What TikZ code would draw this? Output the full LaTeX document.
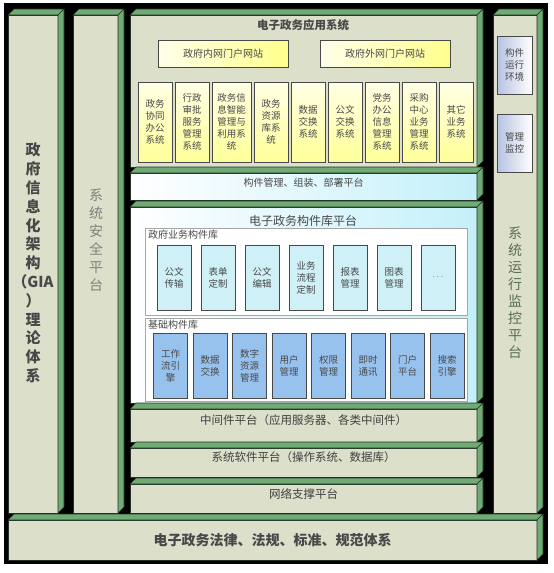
\documentclass[tikz,border=0pt]{standalone}
\usepackage{fontspec}
\setmainfont{Noto Sans CJK SC}
\usetikzlibrary{positioning,fit}
\definecolor{slabfill}{RGB}{220,223,202}
\definecolor{leaf}{RGB}{112,170,116}
\definecolor{edge}{RGB}{36,50,36}
\definecolor{aqua}{RGB}{196,240,250}
\definecolor{cyanbox}{RGB}{206,240,246}
\definecolor{bluebox}{RGB}{152,194,238}
\definecolor{steel}{RGB}{182,194,226}
\definecolor{ink}{RGB}{72,72,72}
\definecolor{sage}{RGB}{88,110,88}
\newcommand{\slabfaces}[1]{%
  \filldraw[face] (#1.north west) -- ++(6,-6) -- ([shift={(6,-6)}]#1.north east)
    -- (#1.north east) -- cycle;
  \filldraw[face] (#1.north east) -- ++(6,-6) -- ([shift={(6,-6)}]#1.south east)
    -- (#1.south east) -- cycle;}

\begin{document}
\begin{tikzpicture}[
  x=1pt, y=-1pt,
  face/.style={draw=edge, fill=leaf, line width=0.6pt, line join=round},
  slab/.style={draw=edge, fill=slabfill, line width=0.6pt, inner sep=0pt, outer sep=0pt,
    text=ink},
  glass/.style={slab, left color=white, right color=aqua},
  holder/.style={draw=gray!70, fill=white, line width=0.6pt, inner sep=0pt, outer sep=0pt},
  label/.style={font=\fontsize{10}{12}\selectfont, text=ink, inner sep=0pt},
  title/.style={font=\fontsize{11.5}{14}\selectfont\bfseries, text=ink},
  layer/.style={font=\fontsize{11.5}{14}\selectfont, text=black!75},
  portal/.style={draw=ink, line width=0.6pt, left color=yellow!8, right color=yellow!45,
    minimum width=130pt, minimum height=27pt, font=\fontsize{10}{12}\selectfont, text=ink},
  cell/.style={draw=ink, line width=0.6pt, minimum width=34pt, inner sep=1pt, outer sep=0pt,
    align=center, font=\fontsize{9.5}{12}\selectfont, text=ink},
  appbox/.style={cell, top color=yellow!10, bottom color=yellow!40, minimum height=80pt},
  bizbox/.style={cell, fill=cyanbox, minimum height=65pt},
  basebox/.style={cell, fill=bluebox, minimum height=65pt},
  envbox/.style={cell, left color=steel, right color=white, minimum width=35pt,
    minimum height=58pt},
]
  % Frame
  \fill[black] (4,3) rectangle (548,564);

  % Theory and security columns
  \node[slab, fit={(8,15) (58,513)}] (gia) {};
  \slabfaces{gia}
  \node[font=\fontsize{15}{18.8}\selectfont\bfseries, text=ink, align=center] (gialabel)
    at (33,263) {政\\府\\信\\息\\化\\架\\构\\（GIA\\）\\理\\论\\体\\系};

  \node[slab, fit={(73,15) (118,513)}] (safe) {};
  \slabfaces{safe}
  \node[font=\fontsize{14}{18}\selectfont, text=gray, align=center] (safelabel)
    at (96,240) {系\\统\\安\\全\\平\\台};

  % Monitoring column
  \node[slab, fit={(493,15) (537,513)}] (mon) {};
  \slabfaces{mon}
  \node[envbox] (env) at (514.5,65) {构件\\运行\\环境};
  \node[envbox, below=20pt of env] (watch) {管理\\监控};
  \node[font=\fontsize{14}{17}\selectfont, text=sage, align=center] (monlabel)
    at (515,293) {系\\统\\运\\行\\监\\控\\平\\台};

  % Application system
  \node[slab, fit={(130,15) (477,167)}] (app) {};
  \slabfaces{app}
  \node[title] (apptitle) at (303,25) {电子政务应用系统};
  \node[portal] (intra) at (223,53.5) {政府内网门户网站};
  \node[portal] (extra) at (385,53.5) {政府外网门户网站};

  \node[appbox] (sys1) at (155,122) {政务\\协同\\办公\\系统};
  \node[appbox, right=3pt of sys1] (sys2) {行政\\审批\\服务\\管理\\系统};
  \node[appbox, minimum width=39pt, right=3pt of sys2] (sys3) {政务信\\息智能\\管理与\\利用系\\统};
  \node[appbox, right=3pt of sys3] (sys4) {政务\\资源\\库系\\统};
  \node[appbox, right=3pt of sys4] (sys5) {数据\\交换\\系统};
  \node[appbox, right=3pt of sys5] (sys6) {公文\\交换\\系统};
  \node[appbox, right=3pt of sys6] (sys7) {党务\\办公\\信息\\管理\\系统};
  \node[appbox, right=3pt of sys7] (sys8) {采购\\中心\\业务\\管理\\系统};
  \node[appbox, right=3pt of sys8] (sys9) {其它\\业务\\系统};

  % Component management
  \node[glass, fit={(130,173) (477,200)}, font=\fontsize{10}{12}\selectfont] (manage)
    {构件管理、组装、部署平台};
  \slabfaces{manage}

  % Component library platform
  \node[glass, fit={(130,207) (477,403)}] (lib) {};
  \slabfaces{lib}
  \node[font=\fontsize{12}{14}\selectfont, text=ink] (libtitle) at (303,221) {电子政务构件库平台};

  \node[holder, fit={(145,228) (467,315)}] (bizlib) {};
  \node[label, anchor=north west] (bizname) at (148,230) {政府业务构件库};
  \node[bizbox] (biz1) at (174,277.5) {公文\\传输};
  \node[bizbox, right=10pt of biz1] (biz2) {表单\\定制};
  \node[bizbox, right=10pt of biz2] (biz3) {公文\\编辑};
  \node[bizbox, right=10pt of biz3] (biz4) {业务\\流程\\定制};
  \node[bizbox, right=10pt of biz4] (biz5) {报表\\管理};
  \node[bizbox, right=10pt of biz5] (biz6) {图表\\管理};
  \node[bizbox, right=10pt of biz6] (biz7) {$\cdots$};

  \node[holder, fit={(145,318) (467,401)}] (baselib) {};
  \node[label, anchor=north west] (basename) at (148,320) {基础构件库};
  \node[basebox] (base1) at (170.5,365.5) {工作\\流引\\擎};
  \node[basebox, right=5.5pt of base1] (base2) {数据\\交换};
  \node[basebox, right=5.5pt of base2] (base3) {数字\\资源\\管理};
  \node[basebox, right=5.5pt of base3] (base4) {用户\\管理};
  \node[basebox, right=5.5pt of base4] (base5) {权限\\管理};
  \node[basebox, right=5.5pt of base5] (base6) {即时\\通讯};
  \node[basebox, right=5.5pt of base6] (base7) {门户\\平台};
  \node[basebox, right=5.5pt of base7] (base8) {搜索\\引擎};

  % Lower platforms
  \node[slab, layer, fit={(130,409) (477,442)}] (middle) {中间件平台（应用服务器、各类中间件）};
  \slabfaces{middle}
  \node[slab, layer, fit={(130,448) (477,477)}] (system) {系统软件平台（操作系统、数据库）};
  \slabfaces{system}
  \node[slab, layer, fit={(130,484) (477,513)}] (network) {网络支撑平台};
  \slabfaces{network}

  % Laws and standards
  \node[slab, fit={(8,520) (537,560)}] (law) {};
  \slabfaces{law}
  \node[font=\fontsize{14}{16}\selectfont\bfseries, text=ink, anchor=west] (lawlabel)
    at (150,540) {电子政务法律、法规、标准、规范体系};

  \useasboundingbox (0,0) rectangle (554,573);
\end{tikzpicture}
\end{document}
